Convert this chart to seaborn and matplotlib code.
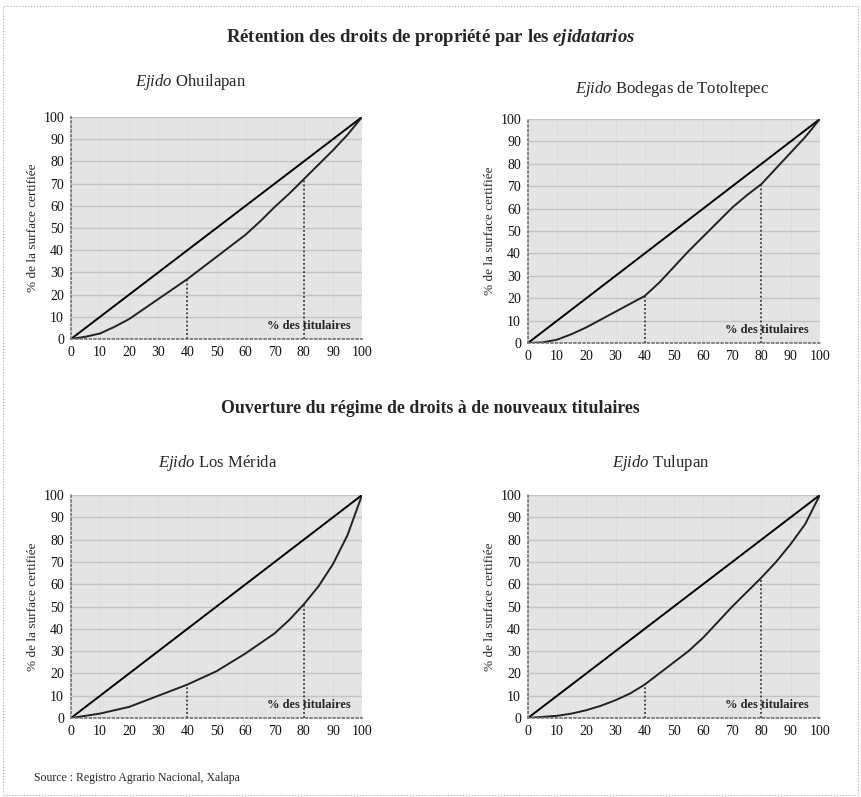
import pandas as pd
import matplotlib.pyplot as plt
import seaborn as sns

sns.set_theme(style="white")
plt.rcParams['font.family'] = ['Liberation Serif', 'DejaVu Serif']
plt.rcParams['mathtext.fontset'] = 'custom'
plt.rcParams['mathtext.rm'] = 'Liberation Serif'
plt.rcParams['mathtext.it'] = 'Liberation Serif:italic'
plt.rcParams['mathtext.bf'] = 'Liberation Serif:bold'
plt.rcParams['mathtext.bfit'] = 'Liberation Serif:italic:bold'

# % des titulaires (cumulé) et % de la surface certifiée (cumulé)
titulaires = [0, 5, 10, 15, 20, 25, 30, 35, 40, 45, 50, 55, 60, 65, 70, 75, 80, 85, 90, 95, 100]

ohui_y = [0, 1, 2.5, 5.5, 9, 13.5, 18, 22.5, 27, 32, 37, 42, 47, 53, 59.5, 65.5, 72, 78.5, 85, 92, 100]
bodegas_y = [0, 0.3, 1.5, 4, 7, 10.5, 14, 17.5, 21, 27, 34, 41, 47.5, 54, 60.5, 66, 71, 78, 85, 92, 100]
merida_y = [0, 1, 2, 3.5, 5, 7.5, 10, 12.5, 15, 18, 21, 25, 29, 33.5, 38, 44, 51, 59, 69, 82, 100]
tulupan_y = [0, 0.5, 1, 2, 3.5, 5.5, 8, 11, 15, 20, 25, 30, 36, 43, 50, 56.5, 63, 70, 78, 87, 100]

egalite = [0, 100]
reperes = [40, 80]

panels = [
    ("Ohuilapan", ohui_y, [0.0825, 0.5747, 0.338, 0.2785], (0.221, 0.897)),
    ("Bodegas de Totoltepec", bodegas_y, [0.6132, 0.5696, 0.339, 0.281], (0.781, 0.888)),
    ("Los Mérida", merida_y, [0.0825, 0.0991, 0.338, 0.2798], (0.253, 0.419)),
    ("Tulupan", tulupan_y, [0.6132, 0.0991, 0.339, 0.2798], (0.767, 0.419)),
]

fig = plt.figure(figsize=(8.61, 7.97), dpi=100)

for name, ys, pos, tpos in panels:
    ax = fig.add_axes(pos)
    ax.set_facecolor('#e4e4e4')
    df = pd.DataFrame({'titulaires': titulaires, 'surface': ys})
    sns.lineplot(x=egalite, y=egalite, ax=ax, color='black', lw=1.4)
    sns.lineplot(data=df, x='titulaires', y='surface', ax=ax, color='#222222', lw=1.4)
    for r in reperes:
        v = ys[titulaires.index(r)]
        ax.plot([r, r], [0, v], color='#222222', lw=1.1, ls=(0, (1.2, 1.5)))
    ax.set_xlim(0, 100)
    ax.set_ylim(0, 100)
    ax.set_xticks(range(0, 101, 10))
    ax.set_yticks(range(0, 101, 10))
    ax.set_xticks(range(5, 100, 10), minor=True)
    ax.grid(axis='y', color='#c4c4c4', lw=1.0)
    ax.grid(axis='x', color='#d0d0d0', lw=0.6, ls=':')
    ax.tick_params(axis='both', which='both', direction='out', length=3, width=0.6,
                   color='#555555', labelsize=10, pad=2, labelcolor='#111111')
    ax.tick_params(axis='x', which='minor', length=2)
    for s in ax.spines.values():
        s.set_visible(False)
    for side in ('left', 'bottom'):
        ax.spines[side].set_visible(True)
        ax.spines[side].set_color('#777777')
        ax.spines[side].set_linestyle(':')
    ax.set_xlabel('')
    ax.set_ylabel('% de la surface certifiée', fontsize=9.5, labelpad=3)
    ax.text(96, 3, '% des titulaires', fontsize=9, fontweight='bold', ha='right', va='bottom')
    fig.text(tpos[0], tpos[1], r'$\mathit{Ejido}$ ' + name, fontsize=12, ha='center', va='center')

fig.text(0.5, 0.953, r'Rétention des droits de propriété par les $\mathbfit{ejidatarios}$',
         fontsize=13.5, fontweight='bold', ha='center', va='center')
fig.text(0.5, 0.487, 'Ouverture du régime de droits à de nouveaux titulaires',
         fontsize=12.8, fontweight='bold', ha='center', va='center')
fig.text(0.04, 0.024, 'Source : Registro Agrario Nacional, Xalapa', fontsize=8.5, ha='left', va='center')

# cadre pointillé
frame = plt.Rectangle((0.004, 0.003), 0.992, 0.99, transform=fig.transFigure, fill=False,
                      ec='#aaaaaa', lw=0.8, ls=':')
fig.patches.append(frame)

fig.savefig('out.png', dpi=100)
